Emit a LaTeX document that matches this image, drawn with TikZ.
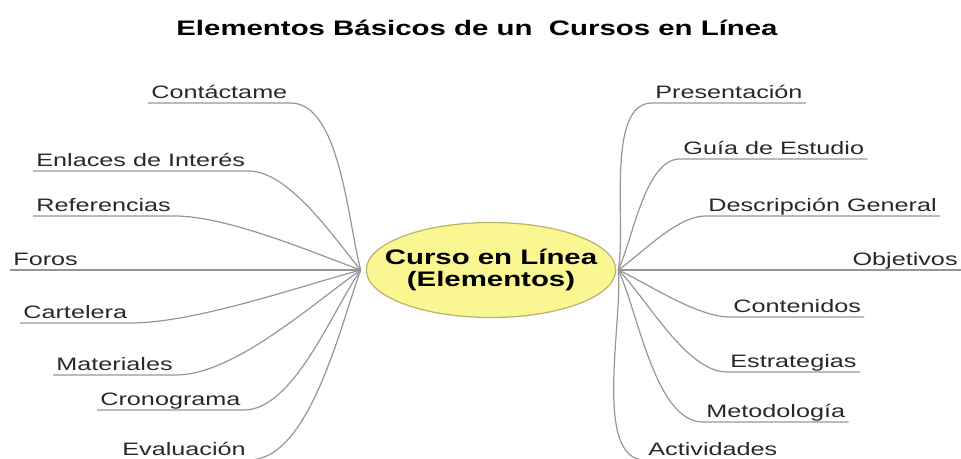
\documentclass[tikz,border=0pt]{standalone}
\usepackage{fontspec}
\setmainfont{Liberation Sans}[FakeStretch=1.4]
\usetikzlibrary{shapes.geometric}

\definecolor{lineagris}{RGB}{150,150,150}
\definecolor{textogris}{RGB}{40,40,40}
\definecolor{amarillo}{RGB}{250,246,145}
\definecolor{bordeamarillo}{RGB}{185,178,110}

\tikzset{
  titulo/.style={font=\bfseries\fontsize{10.5}{12}\selectfont, text=black, inner sep=0pt},
  centro/.style={ellipse, draw=bordeamarillo, fill=amarillo, line width=0.6pt,
    minimum width=124pt, minimum height=47.5pt, align=center,
    inner xsep=-9pt, inner ysep=3pt,
    font=\bfseries\fontsize{10.5}{11}\selectfont, text=black},
  etiqueta/.style={font=\fontsize{9}{10}\selectfont, text=textogris, anchor=south west,
    inner xsep=1.5pt, inner ysep=0pt, text height=7pt, text depth=2.2pt},
  rama/.style={draw=lineagris, line width=0.6pt, looseness=0.7},
}

\begin{document}
\begin{tikzpicture}[x=0.5pt,y=0.5pt]
  \useasboundingbox (0,0) rectangle (961,459);

  % Titulo
  \node[titulo] (tit) at (477,431) {Elementos Básicos de un~ Cursos en Línea};

  % Nodo central
  \node[centro] (curso) at (491,189) {Curso en Línea\\(Elementos)};
  \coordinate (hubI) at ([xshift=-2.5pt]curso.west);
  \coordinate (hubD) at ([xshift=1pt]curso.east);

  % Ramas de la izquierda
  \node[etiqueta] (contactame) at (148,356) {Contáctame};
  \node[etiqueta] (enlaces) at (33,288) {Enlaces de Interés};
  \node[etiqueta] (referencias) at (33,243) {Referencias};
  \node[etiqueta] (foros) at (10,189) {Foros};
  \node[etiqueta] (cartelera) at (20,136) {Cartelera};
  \node[etiqueta] (materiales) at (53,84) {Materiales};
  \node[etiqueta] (cronograma) at (97,49) {Cronograma};
  \node[etiqueta] (evaluacion) at (119,-1) {Evaluación};

  \foreach \n/\a in {contactame/105, enlaces/130, referencias/160, cartelera/195,
                     materiales/215, cronograma/235, evaluacion/250}
    \draw[rama] (\n.south west) -- (\n.south east) to[out=0,in=\a] (hubI);
  \draw[rama] (foros.south west) -- (hubI);

  % Ramas de la derecha
  \node[etiqueta] (presentacion) at (652,356) {Presentación};
  \node[etiqueta] (guia) at (680,300) {Guía de Estudio};
  \node[etiqueta] (descripcion) at (705,243) {Descripción General};
  \node[etiqueta, anchor=south east] (objetivos) at (961,189) {Objetivos};
  \node[etiqueta] (contenidos) at (730,142) {Contenidos};
  \node[etiqueta] (estrategias) at (727,87) {Estrategias};
  \node[etiqueta] (metodologia) at (703,37) {Metodología};
  \node[etiqueta] (actividades) at (645,-1) {Actividades};

  \foreach \n/\a in {presentacion/80, guia/65, descripcion/35, contenidos/-25,
                     estrategias/-45, metodologia/-65, actividades/-85}
    \draw[rama] (hubD) to[out=\a,in=180] (\n.south west) -- (\n.south east);
  \draw[rama] (hubD) -- (objetivos.south east);

\end{tikzpicture}
\end{document}
